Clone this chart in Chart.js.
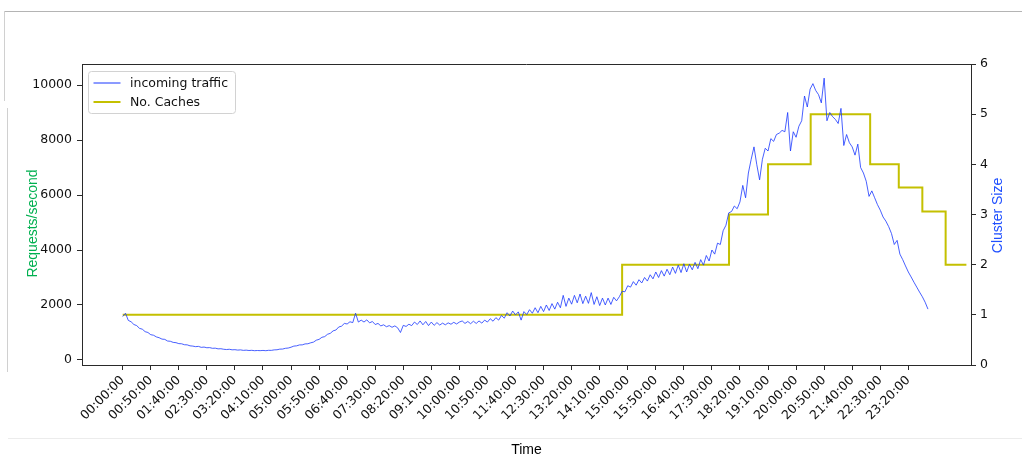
<!DOCTYPE html>
<html>
<head>
<meta charset="utf-8">
<script src="https://cdn.jsdelivr.net/npm/chart.js@4.4.1/dist/chart.umd.min.js"></script>
<style>
  html, body { margin: 0; padding: 0; background: #ffffff; }
  #wrap { position: relative; width: 1022px; height: 457px; overflow: hidden; background: #fff; }
  #c { position: absolute; left: 0; top: 0; }
  .deco { position: absolute; }
</style>
</head>
<body>
<div id="wrap">
  <div class="deco" style="left:4px; top:11px; width:1018px; height:1px; background:#b4b4b4;"></div>
  <div class="deco" style="left:4px; top:11px; width:1px; height:90px; background:#d0d0d0;"></div>
  <div class="deco" style="left:7px; top:108px; width:1px; height:264px; background:#d0d0d0;"></div>
  <div class="deco" style="left:8px; top:438px; width:1014px; height:1px; background:#ececec;"></div>
  <canvas id="c" width="1022" height="457"></canvas>
</div>
<script>
// ---- Data ----
// incoming traffic, one value every 5 minutes from 00:00 (requests/second); rows = hours 0..23
const trafficStepMinutes = 5;
const trafficValues = [
  1580, 1700, 1440, 1390, 1290, 1250, 1150, 1120, 1030, 1000, 920, 900,
  840, 810, 760, 750, 690, 680, 640, 630, 595, 590, 555, 550,
  515, 505, 485, 495, 460, 470, 445, 450, 425, 430, 405, 410,
  390, 380, 390, 370, 375, 360, 368, 350, 358, 345, 352, 338,
  345, 340, 348, 338, 352, 350, 368, 372, 395, 398, 425, 435,
  465, 505, 515, 548, 550, 585, 590, 625, 650, 720, 750, 825,
  850, 935, 970, 1060, 1090, 1200, 1230, 1330, 1310, 1390, 1360, 1700,
  1380, 1450, 1380, 1460, 1350, 1400, 1290, 1330, 1240, 1280, 1210, 1250,
  1190, 1240, 1170, 1000, 1260, 1220, 1300, 1250, 1380, 1290, 1420, 1280,
  1400, 1250, 1380, 1260, 1360, 1270, 1340, 1280, 1350, 1300, 1370, 1310,
  1380, 1420, 1330, 1400, 1320, 1410, 1330, 1420, 1340, 1450, 1380, 1500,
  1410, 1540, 1450, 1620, 1520, 1720, 1600, 1780, 1640, 1750, 1450, 1760,
  1650, 1830, 1700, 1900, 1720, 1950, 1760, 2000, 1800, 2050, 1850, 2100,
  1900, 2350, 1950, 2250, 2030, 2350, 2080, 2400, 2050, 2320, 2060, 2450,
  2020, 2300, 1980, 2250, 2000, 2250, 2020, 2280, 2150, 2300, 2500, 2480,
  2700, 2650, 2850, 2720, 2920, 2800, 3000, 2870, 3100, 2950, 3200, 3000,
  3250, 3050, 3300, 3100, 3380, 3150, 3450, 3180, 3500, 3200, 3480, 3280,
  3550, 3320, 3650, 3450, 3800, 3600, 4000, 3850, 4250, 4200, 4700, 4900,
  5350, 5400, 5600, 5500, 5750, 6350, 5900, 6800, 7300, 7750, 7100, 6550,
  7300, 7700, 7600, 8050, 7950, 8200, 8250, 8350, 8300, 9000, 7600, 8300,
  8100, 8500, 8700, 9600, 9200, 9850, 10050, 9800, 9650, 9350, 10250, 8700,
  9000, 8850, 8750, 8600, 9150, 7800, 8200, 7900, 7750, 7450, 7850, 7000,
  6800, 6500, 5950, 6150, 5900, 5650, 5450, 5200, 5050, 4850, 4600, 4200,
  4350, 3850, 3650, 3420, 3200, 3020, 2830, 2650, 2470, 2300, 2100, 1850
];
// number of caches (cluster size): change times in minutes and the level from that time on
const cacheMinutes = [0, 890, 1080.5, 1150, 1226, 1332, 1383, 1425, 1466.5, 1503.5];
const cacheValues  = [1, 2, 3, 4, 5, 4, 3.54, 3.06, 2, 2];

const timeTickLabels = ['00:00:00','00:50:00','01:40:00','02:30:00','03:20:00','04:10:00','05:00:00',
  '05:50:00','06:40:00','07:30:00','08:20:00','09:10:00','10:00:00','10:50:00','11:40:00','12:30:00',
  '13:20:00','14:10:00','15:00:00','15:50:00','16:40:00','17:30:00','18:20:00','19:10:00','20:00:00',
  '20:50:00','21:40:00','22:30:00','23:20:00'];
const requestTicks = [0, 2000, 4000, 6000, 8000, 10000];
const clusterTicks = [0, 1, 2, 3, 4, 5, 6];

// ---- Build chart ----
const toMinutes = s => { const p = s.split(':').map(Number); return p[0] * 60 + p[1] + p[2] / 60; };
const tickMinutes = timeTickLabels.map(toMinutes);
const trafficPoints = trafficValues.map((v, i) => ({ x: i * trafficStepMinutes, y: v }));
const cachePoints = cacheValues.map((v, i) => ({ x: cacheMinutes[i], y: v }));

const tickFont = { family: 'DejaVu Sans', size: 12.5 };
const tickColor = '#111111';
const axisColor = '#2a2a2a';

function drawVerticalTitle(ctx, t, x, y) {
  ctx.save();
  ctx.translate(x, y);
  ctx.rotate(-Math.PI / 2);
  ctx.fillStyle = t.color;
  ctx.font = '14px "Liberation Sans"';
  ctx.textAlign = 'center';
  ctx.textBaseline = 'middle';
  ctx.fillText(t.text, 0, 0);
  ctx.restore();
}

const frameAndLegend = {
  id: 'frameAndLegend',
  afterDraw(chart) {
    const ctx = chart.ctx;
    const a = chart.chartArea;
    const mid = (a.top + a.bottom) / 2;
    ctx.save();
    // top spine
    ctx.strokeStyle = axisColor;
    ctx.lineWidth = 1;
    ctx.beginPath();
    ctx.moveTo(a.left, Math.round(a.top) + 0.5);
    ctx.lineTo(a.right, Math.round(a.top) + 0.5);
    ctx.stroke();
    // axis titles, both read bottom-to-top as in the reference
    drawVerticalTitle(ctx, chart.options.scales.y.title, 33, mid + 9);
    drawVerticalTitle(ctx, chart.options.scales.y1.title, chart.width - 24, mid + 1);
    // legend box
    const bx = a.left + 6.5, by = a.top + 7.5, bw = 147, bh = 42;
    ctx.beginPath();
    ctx.roundRect(bx, by, bw, bh, 3);
    ctx.fillStyle = 'rgba(255,255,255,0.85)';
    ctx.fill();
    ctx.strokeStyle = '#d2d2d2';
    ctx.lineWidth = 1;
    ctx.stroke();
    chart.data.datasets.forEach((ds, i) => {
      const ly = by + 11.5 + i * 19;
      ctx.strokeStyle = ds.borderColor;
      ctx.lineWidth = i === 0 ? 1 : 2;
      ctx.beginPath();
      ctx.moveTo(bx + 5, ly);
      ctx.lineTo(bx + 32, ly);
      ctx.stroke();
      ctx.fillStyle = tickColor;
      ctx.font = '12.5px "DejaVu Sans"';
      ctx.textBaseline = 'middle';
      ctx.textAlign = 'left';
      ctx.fillText(ds.label, bx + 41.5, ly + 0.5);
    });
    ctx.restore();
  }
};

new Chart(document.getElementById('c').getContext('2d'), {
  type: 'line',
  data: {
    datasets: [
      {
        label: 'incoming traffic',
        data: trafficPoints,
        yAxisID: 'y',
        borderColor: 'rgb(25,55,255)',
        borderWidth: 0.8,
        pointRadius: 0,
        tension: 0,
        fill: false
      },
      {
        label: 'No. Caches',
        data: cachePoints,
        yAxisID: 'y1',
        stepped: true,
        borderColor: '#c4c000',
        borderWidth: 2,
        pointRadius: 0,
        fill: false
      }
    ]
  },
  options: {
    responsive: false,
    animation: false,
    devicePixelRatio: 1,
    layout: { padding: { top: 64, left: 0, right: 0, bottom: 0 } },
    plugins: { legend: { display: false }, tooltip: { enabled: false }, title: { display: false } },
    scales: {
      x: {
        type: 'linear',
        min: -72.5,
        max: 1511.7,
        afterBuildTicks: s => { s.ticks = tickMinutes.map(v => ({ value: v })); },
        afterFit: s => { s.height = 92; },
        ticks: {
          autoSkip: false,
          minRotation: 45,
          maxRotation: 45,
          font: tickFont,
          color: tickColor,
          padding: 3,
          callback: v => timeTickLabels[tickMinutes.indexOf(v)]
        },
        grid: { drawOnChartArea: false, drawTicks: true, tickLength: 5, color: axisColor },
        border: { display: true, color: axisColor, width: 1 },
        title: { display: true, text: 'Time', color: '#000', font: { family: 'Liberation Sans', size: 14, lineHeight: 1 }, padding: { top: 0, bottom: 0 } }
      },
      y: {
        position: 'left',
        min: -182,
        max: 10764,
        afterBuildTicks: s => { s.ticks = requestTicks.map(v => ({ value: v })); },
        afterFit: s => { s.width = 82; },
        ticks: { font: tickFont, color: tickColor, padding: 5, callback: v => String(v) },
        grid: { drawOnChartArea: false, drawTicks: true, tickLength: 5, color: axisColor },
        border: { display: true, color: axisColor, width: 1 },
        title: { display: false, text: 'Requests/second', color: '#00b050' }
      },
      y1: {
        position: 'right',
        min: 0,
        max: 6,
        afterBuildTicks: s => { s.ticks = clusterTicks.map(v => ({ value: v })); },
        afterFit: s => { s.width = 51; },
        ticks: { font: tickFont, color: tickColor, padding: 4, callback: v => String(v) },
        grid: { drawOnChartArea: false, drawTicks: true, tickLength: 5, color: axisColor },
        border: { display: true, color: axisColor, width: 1 },
        title: { display: false, text: 'Cluster Size', color: '#2050ff' }
      }
    }
  },
  plugins: [frameAndLegend]
});
</script>
</body>
</html>
